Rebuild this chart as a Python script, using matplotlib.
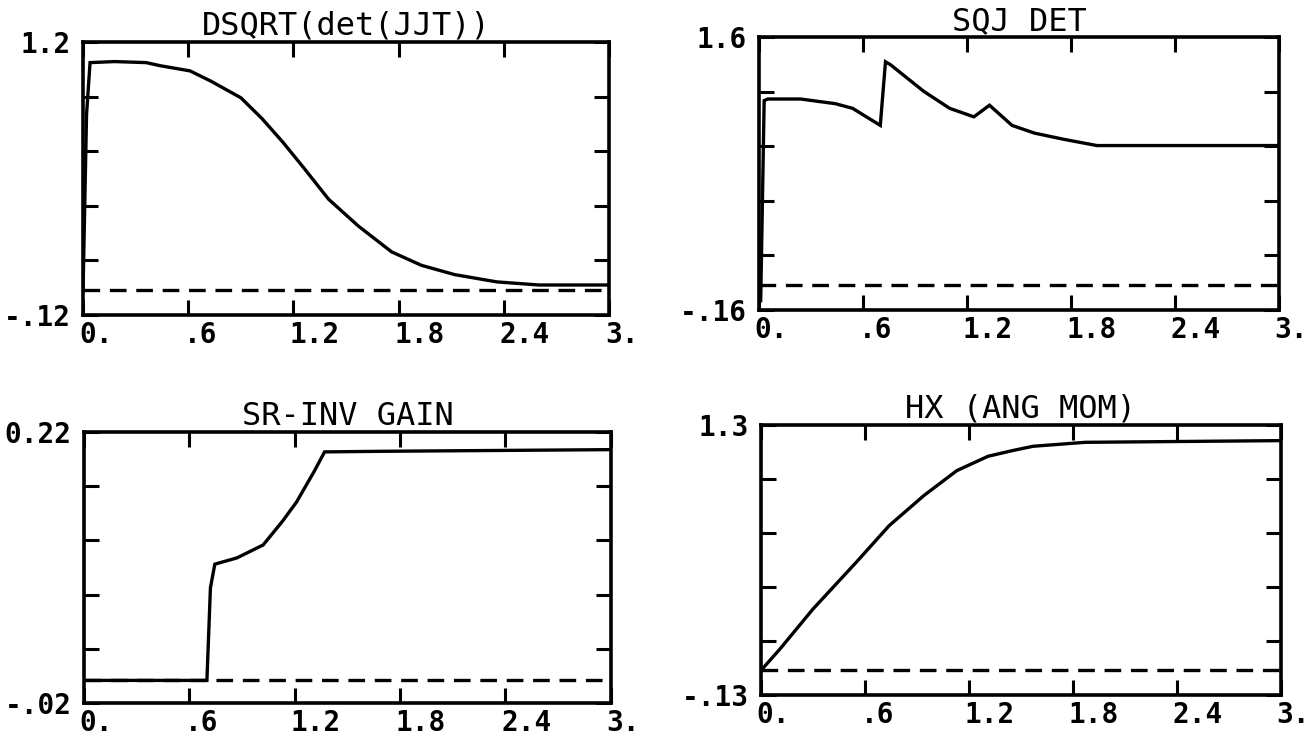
import numpy as np
import matplotlib
matplotlib.use('Agg')
import matplotlib.pyplot as plt
from matplotlib.transforms import ScaledTranslation

# plotter-style look: thick black lines, monospace text
plt.rcParams['font.family'] = ['DejaVu Sans Mono', 'DejaVu Sans']
plt.rcParams['lines.scale_dashes'] = False

# x axis shared by all four panels
x_ticks = [0.0, 0.6, 1.2, 1.8, 2.4, 3.0]
x_tick_labels = ['0.', '.6', '1.2', '1.8', '2.4', '3.']

# zero reference (dashed)
zero_x = [0.0, 3.0]
zero_y = [0.0, 0.0]

# panel 1: DSQRT(det(JJT))
x1 = [0.0, 0.02, 0.04, 0.18, 0.36, 0.44, 0.61, 0.73, 0.90, 1.02, 1.14, 1.26,
      1.40, 1.57, 1.76, 1.93, 2.12, 2.36, 2.60, 3.0]
y1 = [0.0, 0.85, 1.10, 1.105, 1.10, 1.085, 1.06, 1.01, 0.93, 0.83, 0.715, 0.59,
      0.44, 0.31, 0.185, 0.12, 0.075, 0.04, 0.025, 0.025]

# panel 2: SQJ DET
x2 = [0.01, 0.03, 0.05, 0.24, 0.44, 0.54, 0.70, 0.73, 0.76, 0.95, 1.10, 1.24,
      1.33, 1.46, 1.59, 1.76, 1.95, 3.0]
y2 = [-0.10, 1.19, 1.20, 1.20, 1.17, 1.14, 1.03, 1.44, 1.42, 1.25, 1.14, 1.085,
      1.16, 1.03, 0.98, 0.94, 0.90, 0.90]

# panel 3: SR-INV GAIN
x3 = [0.0, 0.70, 0.72, 0.745, 0.87, 1.02, 1.13, 1.21, 1.31, 1.37, 1.68, 3.0]
y3 = [0.0, 0.0, 0.082, 0.103, 0.1085, 0.12, 0.141, 0.158, 0.185, 0.2025, 0.203, 0.2045]

# panel 4: HX (ANG MOM)
x4 = [0.0, 0.11, 0.30, 0.55, 0.74, 0.94, 1.13, 1.31, 1.45, 1.57, 1.87, 3.0]
y4 = [0.0, 0.114, 0.325, 0.573, 0.767, 0.926, 1.058, 1.134, 1.164, 1.187, 1.208, 1.217]

panels = [
    # title, x, y, ylim, y end labels, axes rect
    ('DSQRT(det(JJT))', x1, y1, (-0.12, 1.2), ('-.12', '1.2'), [0.0632, 0.5755, 0.4003, 0.368]),
    ('SQJ DET', x2, y2, (-0.16, 1.6), ('-.16', '1.6'), [0.5776, 0.5822, 0.3957, 0.368]),
    ('SR-INV GAIN', x3, y3, (-0.02, 0.22), ('-.02', '0.22'), [0.0639, 0.0526, 0.4010, 0.365]),
    ('HX (ANG MOM)', x4, y4, (-0.13, 1.3), ('-.13', '1.3'), [0.5791, 0.0633, 0.3957, 0.364]),
]

fig = plt.figure(figsize=(13.14, 7.42), dpi=100)
shift = ScaledTranslation(-3 / 72, 0, fig.dpi_scale_trans)

for title, xs, ys, ylim, ylabels, rect in panels:
    ax = fig.add_axes(rect)
    ax.plot(xs, ys, color='black', lw=2.4, solid_joinstyle='miter')
    ax.plot(zero_x, zero_y, color='black', lw=2.4, dashes=(12, 7))

    ax.set_xlim(0, 3)
    ax.set_ylim(*ylim)
    ax.set_xticks(x_ticks)
    ax.set_xticklabels(x_tick_labels)
    ax.set_yticks(np.linspace(ylim[0], ylim[1], 6))
    ax.set_yticklabels([ylabels[0], '', '', '', '', ylabels[1]])

    ax.tick_params(direction='in', length=11, width=2.2, top=True, right=True,
                   labelsize=20, color='black')
    ax.tick_params(axis='x', pad=4)
    ax.tick_params(axis='y', pad=9)
    for lab in ax.get_xticklabels():
        lab.set_horizontalalignment('left')
        lab.set_fontweight('bold')
        lab.set_transform(lab.get_transform() + shift)
    for lab in ax.get_yticklabels():
        lab.set_fontweight('bold')

    for sp in ax.spines.values():
        sp.set_linewidth(2.6)
        sp.set_color('black')

    ax.set_title(title, fontsize=23, pad=5)

fig.savefig('out.png', dpi=100)
